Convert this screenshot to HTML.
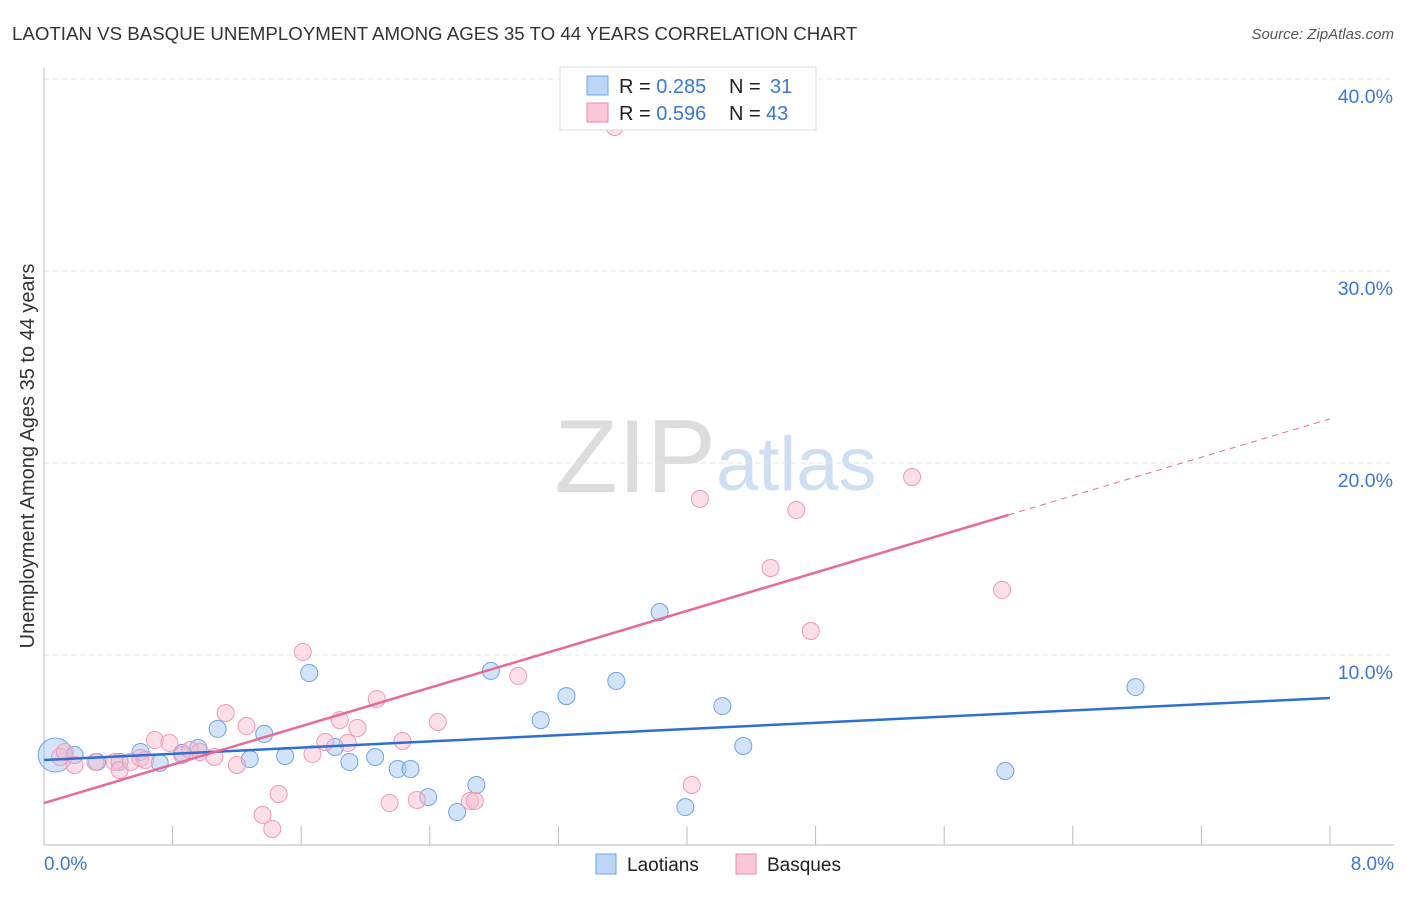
<!DOCTYPE html>
<html><head><meta charset="utf-8"><style>
body{margin:0;background:#fff;font-family:"Liberation Sans",sans-serif;}
svg text{font-family:"Liberation Sans",sans-serif;}
</style></head><body>
<svg id="chart" width="1406" height="892">
<text x="12" y="40" font-size="18.7" fill="#333">LAOTIAN VS BASQUE UNEMPLOYMENT AMONG AGES 35 TO 44 YEARS CORRELATION CHART</text>
<text x="1394" y="39" font-size="15" fill="#555" text-anchor="end" font-style="italic">Source: ZipAtlas.com</text>
<text x="0" y="0" transform="translate(34,456) rotate(-90)" font-size="20" fill="#333" text-anchor="middle">Unemployment Among Ages 35 to 44 years</text>
<text x="716" y="492" font-size="104" fill="#ddd" text-anchor="end" font-family="Liberation Serif">ZIP</text>
<text x="716" y="490" font-size="76" fill="#cfdff3">atlas</text>
<g id="grid"></g><g id="axes"></g><g id="pts"></g><g id="lines"></g>
<g>
<rect x="560" y="67" width="256" height="63" fill="#fff" stroke="#ddd"/>
<rect x="587" y="76" width="21" height="19" fill="#bcd6f6" stroke="#6ea3e6"/>
<rect x="587" y="103" width="21" height="19" fill="#f9c7d6" stroke="#ea88a8"/>
<text y="93" font-size="20" fill="#222"><tspan x="619">R = </tspan><tspan fill="#3a78d4">0.285</tspan><tspan x="729">N = </tspan><tspan x="770" fill="#3a78d4">31</tspan></text>
<text y="120" font-size="20" fill="#222"><tspan x="619">R = </tspan><tspan fill="#3a78d4">0.596</tspan><tspan x="729">N = </tspan><tspan x="766" fill="#3a78d4">43</tspan></text>
</g>
<g>
<rect x="596" y="854" width="20" height="20" fill="#bcd6f6" stroke="#6ea3e6"/>
<text x="627" y="871" font-size="19" fill="#222">Laotians</text>
<rect x="736" y="854" width="20" height="20" fill="#f9c7d6" stroke="#ea88a8"/>
<text x="767" y="871" font-size="19" fill="#222">Basques</text>
</g>
</svg>
<script>
const yTicks=[10,20,30,40];
const yTickLabels=["10.0%","20.0%","30.0%","40.0%"];
const xTicks=[0.8,1.6,2.4,3.2,4.0,4.8,5.6,6.4,7.2,8.0];
const xLabels=["0.0%","8.0%"];
const laoX=[0.07,0.19,0.33,0.47,0.60,0.72,0.86,0.96,1.08,1.28,1.37,1.50,1.65,1.81,1.90,2.06,2.20,2.28,2.39,2.57,2.69,2.78,3.09,3.25,3.56,3.83,3.99,4.22,4.35,5.98,6.79];
const laoY=[4.79,4.79,4.43,4.43,4.95,4.38,4.90,5.16,6.15,4.58,5.89,4.74,9.06,5.21,4.43,4.69,4.06,4.06,2.60,1.82,3.23,9.17,6.61,7.86,8.65,12.24,2.08,7.34,5.26,3.96,8.33];
const basX=[0.10,0.13,0.19,0.32,0.44,0.47,0.54,0.60,0.63,0.69,0.78,0.86,0.91,0.97,1.06,1.13,1.20,1.26,1.36,1.42,1.46,1.61,1.67,1.75,1.84,1.89,1.95,2.07,2.15,2.23,2.32,2.45,2.65,2.68,2.95,3.55,4.03,4.08,4.52,4.68,4.77,5.40,5.96];
const basY=[4.69,4.95,4.27,4.43,4.43,4.01,4.43,4.64,4.53,5.57,5.42,4.79,5.05,4.95,4.69,6.98,4.27,6.30,1.67,0.94,2.76,10.16,4.84,5.47,6.61,5.42,6.20,7.71,2.29,5.52,2.45,6.51,2.40,2.40,8.91,37.5,3.23,18.13,14.53,17.55,11.25,19.27,13.39];
const laoTrend=[4.53,7.76];
const basTrend=[2.29,22.3];
const basSolidEnd=6.0;
const NS="http://www.w3.org/2000/svg";
const X=v=>44+v/8*1286, Y=v=>847-v*19.2;
function mk(p,t,a){const e=document.createElementNS(NS,t);for(const k in a)e.setAttribute(k,a[k]);document.getElementById(p).appendChild(e);return e;}
yTicks.forEach((t,i)=>{
 const l=mk('grid','line',{x1:44,x2:1394,y1:Y(t),y2:Y(t),stroke:'#e3e3e3','stroke-dasharray':'5,4'});
 
 
 const tx=mk('grid','text',{x:1393,y:Y(t)+24,'font-size':19.5,fill:'#3a78d4','text-anchor':'end'});tx.textContent=yTickLabels[i];
 
 
});
mk('axes','line',{x1:44,x2:44,y1:68,y2:845,stroke:'#bbb'});
mk('axes','line',{x1:44,x2:1394,y1:845,y2:845,stroke:'#bbb'});
xTicks.forEach(t=>{const l=mk('axes','line',{x1:X(t),x2:X(t),y1:826,y2:845,stroke:'#bbb'});
 
 });
[[0,'start',44],[8,'end',1394]].forEach((d,i)=>{const t=mk('axes','text',{x:d[2],y:870,'font-size':19,fill:'#3a78d4','text-anchor':d[1]});t.textContent=xLabels[i];
 
 });
laoX.forEach((v,i)=>{const c=mk('pts','circle',{cx:X(v),cy:Y(laoY[i]),r:i==0?17:8.5,fill:'rgba(160,196,240,0.45)',stroke:'#6ea3e6','stroke-width':1});
 
 });
basX.forEach((v,i)=>{const c=mk('pts','circle',{cx:X(v),cy:Y(basY[i]),r:8.5,fill:'rgba(248,184,204,0.45)',stroke:'#ee9ab6','stroke-width':1});
 
 });
const bt=v=>basTrend[0]+(basTrend[1]-basTrend[0])*v/8;
const l1=mk('lines','line',{x1:X(0),y1:Y(laoTrend[0]),x2:X(8),y2:Y(laoTrend[1]),stroke:'#2f6fd0','stroke-width':2.5});


const l2=mk('lines','line',{x1:X(0),y1:Y(bt(0)),x2:X(basSolidEnd),y2:Y(bt(basSolidEnd)),stroke:'#e8699a','stroke-width':2.5});


const l3=mk('lines','line',{x1:X(basSolidEnd),y1:Y(bt(basSolidEnd)),x2:X(8),y2:Y(bt(8)),stroke:'#e8699a','stroke-width':1,'stroke-dasharray':'6,5'});


</script>
</body></html>
